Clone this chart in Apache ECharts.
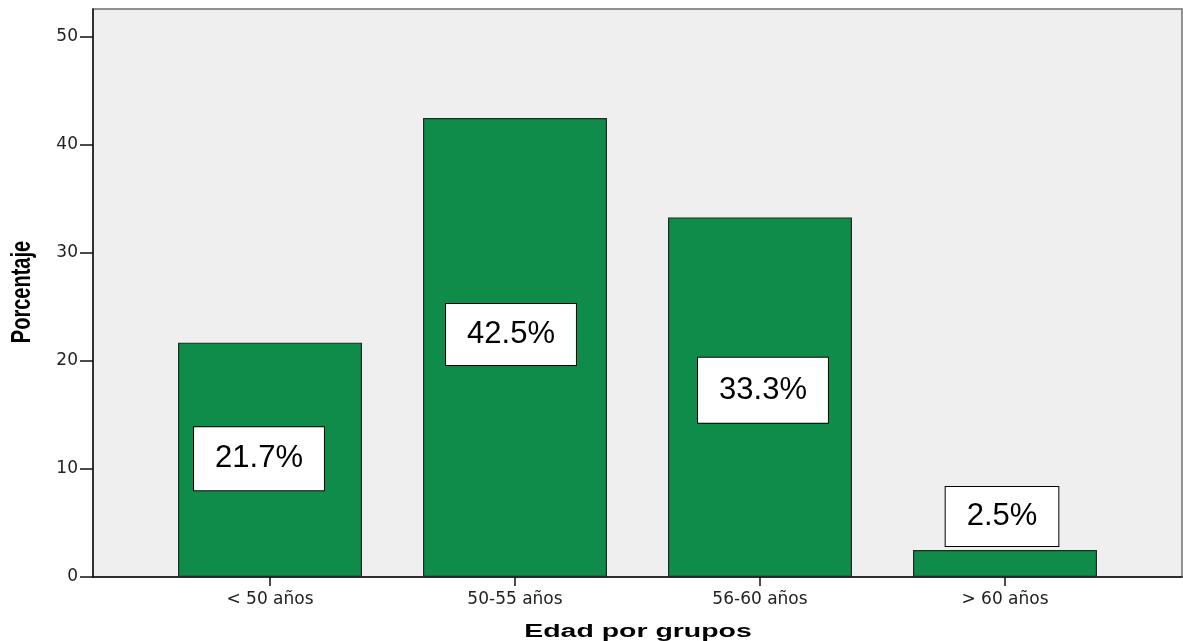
<!DOCTYPE html>
<html>
<head>
<meta charset="utf-8">
<script src="https://cdn.jsdelivr.net/npm/echarts@6/dist/echarts.min.js"></script>
<style>
  html, body { margin: 0; padding: 0; background: #ffffff; }
  #chart { width: 1183px; height: 641px; }
</style>
</head>
<body>
<div id="chart"></div>
<script>
// Age groups and the share of respondents in each
const categories = ['< 50 años', '50-55 años', '56-60 años', '> 60 años'];
const percentages = [21.7, 42.5, 33.3, 2.5];
const yTicks = [0, 10, 20, 30, 40, 50];
const yMax = 52.6;

// Placement of each value box relative to its bar
const labelPlacement = [
  { position: 'inside', offset: [-11, -1], padding: [16, 21] },
  { position: 'inside', offset: [-4, -13], padding: [15, 21] },
  { position: 'inside', offset: [3, -7], padding: [17, 21] },
  { position: 'top', distance: 4, offset: [-3, 0], padding: [14, 21] }
];

const axisFont = 'DejaVu Sans';
const gridTop = 9, gridBottom = 64;

const chart = echarts.init(document.getElementById('chart'), null, { renderer: 'canvas' });

const barData = percentages.map((v, i) => ({
  value: v,
  label: Object.assign({
    show: true,
    formatter: '{c}%',
    fontFamily: 'Liberation Sans, Arial, sans-serif',
    fontSize: 31,
    color: '#000',
    backgroundColor: '#ffffff',
    borderColor: '#000',
    borderWidth: 1
  }, labelPlacement[i])
}));

chart.setOption({
  animation: false,
  grid: [
    // frame and background of the plotting area
    { left: 93, right: 1, top: gridTop, bottom: gridBottom, show: true,
      backgroundColor: '#efefef', borderColor: '#6f6f6f', borderWidth: 1.5 },
    // region that holds the four category bands
    { left: 147.5, width: 980, top: gridTop, bottom: gridBottom }
  ],
  xAxis: [
    { gridIndex: 0, type: 'value', min: 0, max: 1,
      axisLine: { show: true, lineStyle: { color: '#111', width: 1.5 } },
      axisTick: { show: false }, axisLabel: { show: false }, splitLine: { show: false } },
    { gridIndex: 1, type: 'category', data: categories, boundaryGap: true,
      axisLine: { show: false },
      axisTick: { show: true, alignWithLabel: true, length: 9, lineStyle: { color: '#111', width: 1.5 } },
      axisLabel: { fontFamily: axisFont, fontSize: 17, color: '#222', margin: 14 } }
  ],
  yAxis: [
    { gridIndex: 0, type: 'value', min: 0, max: yMax,
      axisLine: { show: true, lineStyle: { color: '#111', width: 1.5 } },
      axisTick: { show: true, length: 13, customValues: yTicks, lineStyle: { color: '#111', width: 1.5 } },
      axisLabel: { customValues: yTicks, fontFamily: axisFont, fontSize: 17, color: '#222', margin: 15 },
      splitLine: { show: false } },
    { gridIndex: 1, type: 'value', min: 0, max: yMax, show: false, splitLine: { show: false } }
  ],
  series: [{
    type: 'bar',
    xAxisIndex: 1,
    yAxisIndex: 1,
    barWidth: 184,
    data: barData,
    itemStyle: { color: '#108c4a', borderColor: '#1e2a22', borderWidth: 1.2 }
  }],
  graphic: [
    { type: 'text', x: 638, y: 641, scaleX: 1.58,
      style: { text: 'Edad por grupos', font: 'bold 18px "Liberation Sans", Arial, sans-serif',
               fill: '#000', align: 'center', verticalAlign: 'bottom' } },
    { type: 'text', x: 22, y: 292, rotation: Math.PI / 2, scaleY: 1.4,
      style: { text: 'Porcentaje', font: 'bold 20px "Liberation Sans", Arial, sans-serif',
               fill: '#000', align: 'center', verticalAlign: 'middle' } }
  ]
});
</script>
</body>
</html>
